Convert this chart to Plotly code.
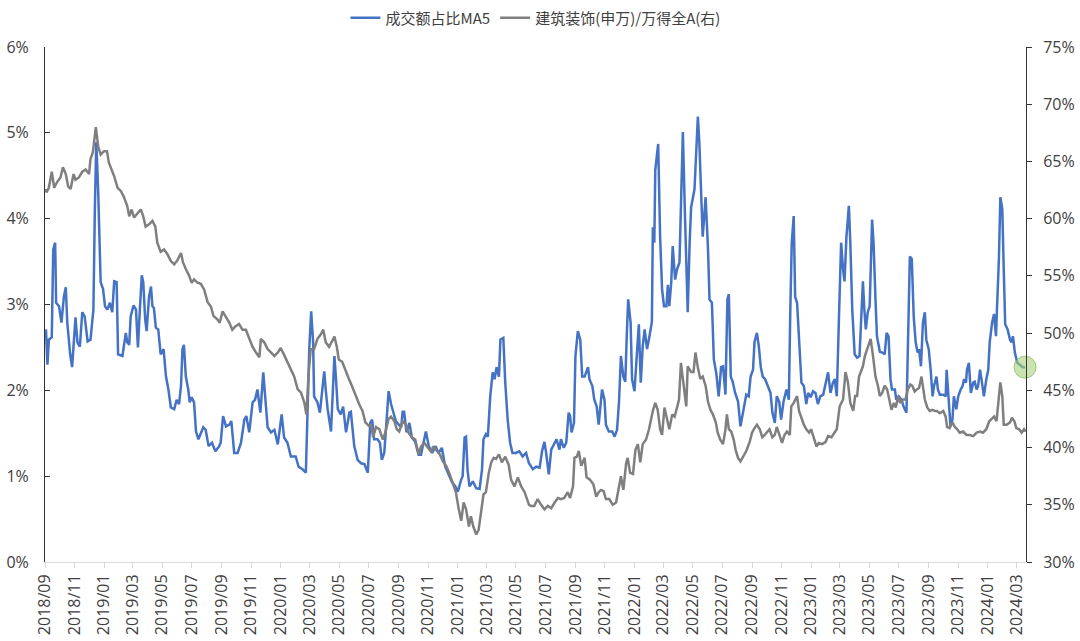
import plotly.graph_objects as go

# ---------------- data ----------------
blue_dates = [
    "2018-09-03","2018-09-06","2018-09-09","2018-09-15","2018-09-18","2018-09-22","2018-09-24","2018-09-30",
    "2018-10-05","2018-10-10","2018-10-14","2018-10-17","2018-10-23","2018-10-27","2018-11-03","2018-11-07",
    "2018-11-12","2018-11-17","2018-11-22","2018-11-28","2018-12-04","2018-12-10","2018-12-13","2018-12-16",
    "2018-12-20","2018-12-25","2018-12-30","2019-01-03","2019-01-08","2019-01-13","2019-01-18","2019-01-22",
    "2019-01-27","2019-01-30","2019-02-08","2019-02-15","2019-02-18","2019-02-22","2019-02-25","2019-03-03",
    "2019-03-08","2019-03-12","2019-03-16","2019-03-20","2019-03-23","2019-03-27","2019-03-30","2019-04-04",
    "2019-04-08","2019-04-11","2019-04-14","2019-04-18","2019-04-23","2019-04-28","2019-05-04","2019-05-09",
    "2019-05-14","2019-05-19","2019-05-26","2019-05-31","2019-06-05","2019-06-09","2019-06-12","2019-06-15",
    "2019-06-19","2019-06-24","2019-06-27","2019-07-01","2019-07-06","2019-07-10","2019-07-15","2019-07-20",
    "2019-07-25","2019-07-30","2019-08-05",
    "2019-08-12","2019-08-19","2019-08-27","2019-08-30","2019-09-04","2019-09-10","2019-09-17","2019-09-21",
    "2019-09-27","2019-10-04","2019-10-11","2019-10-18","2019-10-22","2019-10-28","2019-11-04","2019-11-09",
    "2019-11-14","2019-11-20","2019-11-26","2019-11-30","2019-12-05","2019-12-12","2019-12-19","2019-12-26",
    "2020-01-03","2020-01-08","2020-01-15","2020-01-22","2020-02-01","2020-02-07","2020-02-15","2020-02-22",
    "2020-02-26","2020-02-29","2020-03-04","2020-03-08","2020-03-10","2020-03-17","2020-03-22","2020-03-26",
    "2020-03-31","2020-04-03","2020-04-07","2020-04-14","2020-04-17","2020-04-21","2020-04-24","2020-04-28",
    "2020-05-04","2020-05-09","2020-05-15","2020-05-22","2020-05-25","2020-06-01","2020-06-08","2020-06-15",
    "2020-06-22","2020-06-29",
    "2020-07-04","2020-07-08","2020-07-12","2020-07-19","2020-07-24","2020-07-28","2020-08-02","2020-08-07",
    "2020-08-11","2020-08-16","2020-08-21","2020-08-26","2020-09-01","2020-09-06","2020-09-09","2020-09-12",
    "2020-09-17","2020-09-23","2020-09-28","2020-10-05","2020-10-12","2020-10-17","2020-10-22","2020-10-27",
    "2020-11-02","2020-11-09","2020-11-16","2020-11-22","2020-11-29","2020-12-06","2020-12-13","2020-12-20",
    "2020-12-27","2021-01-01","2021-01-08","2021-01-11","2021-01-15","2021-01-18","2021-01-21","2021-01-25",
    "2021-02-01","2021-02-08","2021-02-15","2021-02-20","2021-02-23","2021-02-28","2021-03-04","2021-03-09",
    "2021-03-14","2021-03-18","2021-03-22","2021-03-27","2021-03-30","2021-04-05","2021-04-09","2021-04-14",
    "2021-04-19","2021-04-24","2021-05-01","2021-05-08","2021-05-15","2021-05-22","2021-05-28",
    "2021-06-05","2021-06-12","2021-06-19","2021-06-24","2021-06-29","2021-07-02","2021-07-08","2021-07-13",
    "2021-07-20","2021-07-24","2021-07-30","2021-08-02","2021-08-08","2021-08-13","2021-08-18","2021-08-21",
    "2021-08-24","2021-08-29","2021-09-01","2021-09-06","2021-09-11","2021-09-15","2021-09-20","2021-09-27",
    "2021-09-30","2021-10-06","2021-10-10","2021-10-15","2021-10-19","2021-10-26","2021-10-31","2021-11-03",
    "2021-11-09","2021-11-16","2021-11-21","2021-11-26","2021-11-30","2021-12-04","2021-12-09","2021-12-13",
    "2021-12-16","2021-12-19","2021-12-24","2021-12-27","2022-01-01","2022-01-06","2022-01-10","2022-01-14",
    "2022-01-18","2022-01-22","2022-01-27","2022-02-01","2022-02-06","2022-02-08","2022-02-11","2022-02-13",
    "2022-02-19","2022-02-23","2022-02-27","2022-03-03","2022-03-08","2022-03-11","2022-03-14","2022-03-18",
    "2022-03-21","2022-03-26","2022-03-30","2022-04-04","2022-04-07","2022-04-11","2022-04-15","2022-04-19",
    "2022-04-21",
    "2022-04-25","2022-04-28","2022-05-05","2022-05-09","2022-05-12","2022-05-15","2022-05-19","2022-05-22",
    "2022-05-28","2022-06-02","2022-06-05","2022-06-10","2022-06-14","2022-06-19","2022-06-24","2022-06-29",
    "2022-07-03","2022-07-08","2022-07-12","2022-07-15","2022-07-19","2022-07-23","2022-07-28","2022-08-03",
    "2022-08-08","2022-08-12","2022-08-17","2022-08-20","2022-08-25","2022-08-29","2022-09-03","2022-09-06",
    "2022-09-11","2022-09-15","2022-09-19","2022-09-23","2022-09-28","2022-10-04","2022-10-09","2022-10-13",
    "2022-10-18","2022-10-22","2022-10-27","2022-10-31","2022-11-05","2022-11-11","2022-11-16","2022-11-19",
    "2022-11-22","2022-11-26","2022-11-29","2022-12-03","2022-12-07","2022-12-12","2022-12-17","2022-12-22",
    "2022-12-26","2022-12-31","2023-01-05","2023-01-10","2023-01-15","2023-01-20","2023-01-26","2023-01-30",
    "2023-02-05","2023-02-10","2023-02-15","2023-02-19","2023-02-23","2023-02-28","2023-03-04","2023-03-08",
    "2023-03-11","2023-03-15","2023-03-20",
    "2023-03-23","2023-03-27","2023-04-01","2023-04-06","2023-04-11","2023-04-14","2023-04-18","2023-04-21",
    "2023-04-24","2023-04-28","2023-05-02","2023-05-07","2023-05-10","2023-05-14","2023-05-17","2023-05-23",
    "2023-05-28","2023-06-02","2023-06-06","2023-06-10","2023-06-14","2023-06-17","2023-06-23","2023-06-26",
    "2023-07-01","2023-07-07","2023-07-11","2023-07-17","2023-07-20","2023-07-24","2023-07-28","2023-08-01",
    "2023-08-05","2023-08-09","2023-08-12","2023-08-16","2023-08-20","2023-08-24","2023-08-27","2023-09-01",
    "2023-09-05","2023-09-09","2023-09-12","2023-09-17","2023-09-20","2023-09-24","2023-10-01","2023-10-06",
    "2023-10-08","2023-10-12","2023-10-16","2023-10-20","2023-10-23","2023-10-28","2023-11-01","2023-11-06",
    "2023-11-10","2023-11-13","2023-11-17","2023-11-19","2023-11-23","2023-11-27","2023-12-02","2023-12-05",
    "2023-12-09","2023-12-12","2023-12-16","2023-12-19","2023-12-24","2023-12-29","2024-01-02","2024-01-05",
    "2024-01-10","2024-01-14","2024-01-18","2024-01-20","2024-01-24","2024-01-27","2024-01-31","2024-02-03",
    "2024-02-06","2024-02-11","2024-02-16","2024-02-19","2024-02-22","2024-02-26","2024-03-02","2024-03-07",
    "2024-03-13","2024-03-18",
]
blue_vals = [
    2.71,2.30,2.59,2.62,3.64,3.72,3.02,2.98,
    2.79,3.09,3.20,2.79,2.42,2.27,2.85,2.56,
    2.51,2.91,2.86,2.57,2.59,2.94,4.11,4.89,
    4.30,3.26,3.18,2.98,2.94,3.02,2.91,3.27,
    3.26,2.42,2.40,2.67,2.56,2.53,2.86,2.99,
    2.94,2.50,2.94,3.34,3.26,2.83,2.69,3.09,
    3.21,2.98,2.96,2.73,2.71,2.42,2.48,2.16,
    2.01,1.80,1.78,1.89,1.84,2.05,2.48,2.53,
    2.16,2.01,1.86,1.92,1.86,1.52,1.43,1.49,
    1.57,1.54,1.35,
    1.39,1.29,1.35,1.39,1.70,1.58,1.60,1.64,
    1.27,1.27,1.39,1.66,1.70,1.51,1.86,1.89,
    2.01,1.74,2.21,1.89,1.57,1.51,1.54,1.37,
    1.72,1.45,1.39,1.23,1.23,1.11,1.08,1.04,
    1.78,2.48,2.92,2.56,1.93,1.86,1.74,1.93,
    2.22,2.01,1.78,1.52,1.93,2.40,2.16,1.78,
    1.72,1.81,1.51,1.74,1.75,1.35,1.19,1.15,
    1.14,1.04,
    1.62,1.66,1.43,1.43,1.39,1.19,1.27,1.62,
    1.99,1.84,1.75,1.64,1.60,1.57,1.75,1.75,
    1.51,1.62,1.45,1.40,1.25,1.25,1.39,1.52,
    1.35,1.27,1.35,1.27,1.33,1.11,1.02,0.93,
    0.88,0.82,0.96,1.00,1.45,1.46,1.08,0.88,
    0.94,0.86,0.85,1.08,1.43,1.49,1.46,1.93,
    2.21,2.13,2.27,2.16,2.59,2.61,2.09,1.66,
    1.39,1.27,1.27,1.29,1.23,1.27,1.15,
    1.08,1.11,1.10,1.29,1.40,1.29,1.02,1.31,
    1.39,1.43,1.31,1.43,1.33,1.39,1.74,1.70,
    1.51,1.62,2.40,2.69,2.59,2.16,2.16,2.27,
    2.13,2.05,1.89,1.81,1.60,2.01,1.89,1.60,
    1.52,1.52,1.46,1.54,1.86,2.40,2.16,2.10,
    2.63,3.06,2.79,2.13,1.99,2.48,2.77,2.09,
    2.51,2.71,2.48,2.63,2.80,3.90,3.72,4.57,
    4.87,3.79,3.18,2.98,2.98,3.23,2.98,3.26,
    3.68,3.29,3.41,3.49,4.11,5.01,4.11,3.09,
    2.91,
    3.72,4.13,4.34,4.89,5.19,4.89,4.15,3.79,
    4.25,3.64,3.06,3.02,2.36,2.20,1.93,2.27,
    2.28,1.95,3.06,3.12,2.16,2.10,1.97,1.87,
    1.58,1.70,1.89,1.95,1.93,2.16,2.24,2.56,
    2.67,2.51,2.27,2.16,2.13,2.05,1.97,1.74,
    1.62,1.93,1.87,1.66,1.87,2.01,1.89,2.94,
    3.72,4.03,3.09,3.02,2.56,2.09,2.05,1.84,
    1.97,1.92,1.99,1.97,1.84,1.93,1.95,2.07,
    2.21,1.97,2.09,2.13,1.93,2.94,3.72,3.41,
    3.27,3.79,4.15,
    3.72,2.94,2.42,2.38,2.40,2.79,3.27,2.94,
    2.71,2.91,2.98,3.99,3.72,3.06,2.63,2.45,
    2.44,2.42,2.67,2.63,2.13,2.01,2.01,1.89,
    1.93,1.89,1.81,1.74,2.56,3.56,3.53,2.86,
    2.56,2.44,2.48,2.28,2.79,2.91,2.59,2.48,
    2.24,1.93,2.05,2.16,2.01,1.95,1.95,1.93,
    2.24,1.89,1.58,1.66,1.93,1.78,1.93,2.01,
    2.05,2.13,2.09,2.24,2.32,1.97,2.09,2.10,
    2.01,2.05,2.24,2.13,1.93,2.13,2.24,2.56,
    2.79,2.89,2.63,2.94,3.53,4.25,4.11,3.41,
    2.77,2.71,2.59,2.56,2.63,2.44,2.32,2.30,
    2.27,2.27,
]

gray_dates = [
    "2018-09-03","2018-09-04","2018-09-09","2018-09-15","2018-09-20","2018-09-26","2018-10-03","2018-10-08",
    "2018-10-14","2018-10-19","2018-10-24","2018-10-30","2018-11-03","2018-11-10","2018-11-17","2018-11-24",
    "2018-12-01","2018-12-04","2018-12-09","2018-12-15","2018-12-20","2018-12-25","2019-01-01","2019-01-07",
    "2019-01-11","2019-01-17","2019-01-22","2019-01-29","2019-02-05","2019-02-11","2019-02-18","2019-02-22",
    "2019-02-27","2019-03-04","2019-03-11","2019-03-18","2019-03-23","2019-03-28","2019-04-04","2019-04-11",
    "2019-04-17","2019-04-21","2019-04-28","2019-05-05","2019-05-12","2019-05-19","2019-05-26","2019-06-02",
    "2019-06-09","2019-06-13","2019-06-19","2019-06-26","2019-07-01","2019-07-06","2019-07-13","2019-07-20",
    "2019-07-27","2019-08-03",
    "2019-08-10","2019-08-15","2019-08-23","2019-08-28","2019-09-03","2019-09-10","2019-09-17","2019-09-23",
    "2019-09-30","2019-10-07","2019-10-14","2019-10-21","2019-10-28","2019-11-04","2019-11-11","2019-11-18",
    "2019-11-21","2019-11-28","2019-12-05","2019-12-12","2019-12-19","2019-12-26","2020-01-01","2020-01-08",
    "2020-01-15","2020-01-22","2020-01-29","2020-02-05","2020-02-12","2020-02-19","2020-02-23","2020-02-28",
    "2020-03-03","2020-03-10","2020-03-17","2020-03-24","2020-03-29","2020-04-03","2020-04-10","2020-04-15",
    "2020-04-21","2020-04-26","2020-04-30","2020-05-07","2020-05-13","2020-05-20","2020-05-27","2020-06-05",
    "2020-06-11","2020-06-18","2020-06-24","2020-07-01",
    "2020-07-06","2020-07-10","2020-07-16","2020-07-23","2020-07-30","2020-08-04","2020-08-11","2020-08-16",
    "2020-08-23","2020-08-28","2020-09-02","2020-09-09","2020-09-16","2020-09-21","2020-09-28","2020-10-05",
    "2020-10-12","2020-10-17","2020-10-24","2020-10-31","2020-11-07","2020-11-11","2020-11-18","2020-11-25",
    "2020-12-01","2020-12-08","2020-12-15","2020-12-21","2020-12-28","2021-01-03","2021-01-08","2021-01-13",
    "2021-01-18","2021-01-24","2021-01-28","2021-02-02","2021-02-08","2021-02-13","2021-02-18","2021-02-23",
    "2021-02-28","2021-03-06","2021-03-11","2021-03-16","2021-03-21","2021-03-27","2021-04-02","2021-04-09",
    "2021-04-16","2021-04-21","2021-04-28","2021-05-05","2021-05-12","2021-05-19","2021-05-28",
    "2021-06-01","2021-06-08","2021-06-15","2021-06-22","2021-06-29","2021-07-06","2021-07-13","2021-07-20",
    "2021-07-27","2021-08-02","2021-08-09","2021-08-16","2021-08-21","2021-08-27","2021-08-30","2021-09-04",
    "2021-09-08","2021-09-13","2021-09-20","2021-09-24","2021-10-01","2021-10-08","2021-10-14","2021-10-19",
    "2021-10-24","2021-10-29","2021-11-03","2021-11-10","2021-11-17","2021-11-24","2021-11-30","2021-12-04",
    "2021-12-09","2021-12-15","2021-12-18","2021-12-23","2021-12-29","2022-01-03","2022-01-08","2022-01-13",
    "2022-01-18","2022-01-25","2022-01-31","2022-02-04","2022-02-08","2022-02-13","2022-02-18","2022-02-23",
    "2022-02-27","2022-03-04","2022-03-09","2022-03-14","2022-03-20","2022-03-25","2022-03-30","2022-04-03",
    "2022-04-07","2022-04-12","2022-04-18","2022-04-21",
    "2022-04-28","2022-05-03","2022-05-07","2022-05-12","2022-05-17","2022-05-22","2022-05-28","2022-06-02",
    "2022-06-07","2022-06-12","2022-06-18","2022-06-22","2022-06-27","2022-07-03","2022-07-08","2022-07-11",
    "2022-07-15","2022-07-20","2022-07-25","2022-07-29","2022-08-03","2022-08-08","2022-08-13","2022-08-20",
    "2022-08-27","2022-09-01","2022-09-06","2022-09-11","2022-09-17","2022-09-22","2022-09-27","2022-10-02",
    "2022-10-07","2022-10-13","2022-10-18","2022-10-22","2022-10-28","2022-11-02","2022-11-07","2022-11-12",
    "2022-11-18","2022-11-21","2022-11-26","2022-11-30","2022-12-03","2022-12-07","2022-12-12","2022-12-17",
    "2022-12-22","2022-12-28","2023-01-01","2023-01-06","2023-01-12","2023-01-17","2023-01-24","2023-01-31",
    "2023-02-05","2023-02-12","2023-02-19","2023-02-23",
    "2023-03-01","2023-03-08","2023-03-13","2023-03-18","2023-03-23","2023-03-29","2023-04-02","2023-04-06",
    "2023-04-10","2023-04-14","2023-04-18","2023-04-22","2023-04-27","2023-05-01","2023-05-04","2023-05-08",
    "2023-05-11","2023-05-14","2023-05-19","2023-05-23","2023-05-28","2023-06-02","2023-06-07","2023-06-11",
    "2023-06-16","2023-06-21","2023-06-25","2023-06-30","2023-07-04","2023-07-10","2023-07-15","2023-07-20",
    "2023-07-25","2023-07-29","2023-08-03","2023-08-08","2023-08-12","2023-08-17","2023-08-20","2023-08-24",
    "2023-08-29","2023-09-03","2023-09-09","2023-09-13","2023-09-18","2023-09-24","2023-10-01","2023-10-06",
    "2023-10-09","2023-10-14","2023-10-20","2023-10-25","2023-10-30","2023-11-04","2023-11-11","2023-11-18",
    "2023-11-25","2023-12-02","2023-12-09","2023-12-16","2023-12-22","2023-12-29","2024-01-04","2024-01-09",
    "2024-01-14","2024-01-19","2024-01-24","2024-01-27","2024-01-31","2024-02-03","2024-02-09","2024-02-16",
    "2024-02-20","2024-02-25","2024-02-29","2024-03-06","2024-03-11","2024-03-16","2024-03-19",
]
gray_vals = [
    62.6,62.3,62.7,64.1,62.7,63.2,63.6,64.5,
    63.9,62.8,62.6,63.9,63.4,63.6,64.1,64.3,
    63.9,65.2,65.8,68.0,66.3,65.6,65.9,65.9,
    64.9,64.3,63.7,62.7,62.4,61.9,61.1,60.2,
    60.8,60.1,60.5,60.8,60.2,59.3,59.5,59.8,
    59.3,57.9,57.1,57.3,56.9,56.3,56.0,56.4,
    57.0,56.2,55.6,55.0,54.4,54.7,54.4,54.3,
    53.8,52.7,
    52.3,51.5,51.2,50.9,51.9,51.4,50.9,50.3,
    50.6,50.8,50.3,50.3,49.6,48.8,48.3,47.9,
    49.5,49.2,48.6,48.3,48.0,48.3,48.7,48.1,
    47.5,46.8,46.2,45.1,44.8,43.9,42.9,46.6,
    48.6,48.6,49.5,49.9,50.3,49.2,48.8,49.2,
    49.7,48.8,47.7,47.5,46.8,46.1,45.4,44.4,
    43.8,43.2,42.2,41.9,
    42.0,40.9,41.8,41.6,40.7,41.3,42.5,42.7,
    42.3,41.6,41.4,42.3,42.0,41.3,40.9,40.7,
    39.4,40.1,40.4,40.0,39.6,40.1,39.7,39.4,
    38.8,38.4,37.7,36.9,36.1,34.6,33.6,35.2,
    34.6,33.1,34.0,33.1,32.4,32.8,34.6,35.9,
    36.1,37.8,38.7,39.1,39.0,39.4,38.7,39.2,
    38.5,37.2,36.6,37.4,36.6,36.1,35.0,
    34.9,34.9,35.5,35.0,34.6,34.9,34.7,35.2,
    35.6,35.5,35.6,36.1,35.6,36.6,39.1,39.2,
    39.7,38.4,39.1,37.4,37.2,36.8,35.7,36.1,
    36.3,36.2,35.5,35.5,35.0,35.2,36.6,37.5,
    36.3,38.7,39.1,37.8,37.7,39.8,40.3,38.7,
    40.3,40.7,41.6,42.5,43.2,43.9,43.3,41.6,
    41.1,43.5,42.6,41.6,42.9,42.7,43.5,44.2,
    47.4,45.4,43.6,47.1,
    46.6,46.6,48.3,47.0,46.0,46.2,45.4,44.0,
    43.3,42.9,42.2,41.3,40.7,40.3,41.6,42.9,
    41.6,41.4,40.7,39.8,39.1,38.8,39.2,39.7,
    40.5,41.3,41.7,42.0,41.6,40.9,41.1,41.4,
    41.6,40.9,41.1,41.8,41.1,40.4,41.1,41.4,
    41.1,43.6,43.9,44.2,44.5,43.2,42.5,42.0,
    41.6,41.3,41.6,40.9,40.1,40.4,40.3,40.5,
    41.0,40.9,41.4,41.6,
    43.6,44.2,46.6,45.7,43.9,43.2,44.5,44.5,
    46.2,46.6,47.1,48.0,48.6,49.2,49.5,48.3,
    47.4,46.2,45.4,44.5,44.8,45.4,45.1,44.2,
    43.3,43.9,43.5,44.5,43.9,44.2,44.2,45.1,
    45.5,45.4,44.9,45.1,45.2,46.2,45.2,44.2,
    43.5,43.2,43.3,43.2,43.2,43.0,43.2,42.7,
    41.8,41.7,42.2,41.8,41.6,41.3,41.4,41.1,
    41.1,41.0,41.3,41.4,41.3,41.6,42.3,42.5,
    42.7,42.3,44.8,45.7,44.5,42.0,42.0,42.2,
    42.6,42.3,41.7,41.6,41.3,41.6,41.4,
]

blue_name = "成交额占比MA5"
gray_name = "建筑装饰(申万)/万得全A(右)"

x_range = ["2018-09-01", "2024-03-20"]
left_range = [0, 6]
right_range = [30, 75]

# ---------------- figure ----------------
TICK_FONT = dict(family="Open Sans, Noto Sans, sans-serif", size=16, color="#404040")

fig = go.Figure()
fig.add_trace(go.Scatter(
    x=blue_dates, y=blue_vals, name=blue_name, mode="lines",
    line=dict(color="#4472C4", width=2.5), yaxis="y", hoverinfo="skip",
))
fig.add_trace(go.Scatter(
    x=gray_dates, y=gray_vals, name=gray_name, mode="lines",
    line=dict(color="#7F7F7F", width=2.5), yaxis="y2", hoverinfo="skip",
))
fig.add_trace(go.Scatter(
    x=[blue_dates[-1]], y=[blue_vals[-1]], mode="markers", showlegend=False,
    marker=dict(size=22, color="rgba(169,209,120,0.6)",
                line=dict(color="rgba(112,173,71,0.6)", width=1)),
    yaxis="y", cliponaxis=False, hoverinfo="skip",
))

fig.update_layout(
    width=1080, height=641,
    margin=dict(l=45, r=54, t=47, b=79, autoexpand=False),
    paper_bgcolor="white", plot_bgcolor="white",
    showlegend=True,
    legend=dict(
        orientation="h", x=0.5, xanchor="center",
        yref="container", y=1 - 18 / 641, yanchor="middle",
        font=dict(family="Noto Sans CJK SC, sans-serif", size=15, color="#404040"),
        bgcolor="rgba(0,0,0,0)", itemwidth=30, tracegroupgap=0,
    ),
    xaxis=dict(
        type="date", range=x_range, tickformat="%Y/%m", dtick="M2", tick0="2018-09-01",
        tickangle=-90, tickfont=TICK_FONT, showgrid=False, zeroline=False,
        showline=True, linecolor="#D9D9D9", linewidth=1,
        ticks="outside", ticklen=5, tickcolor="#D9D9D9",
    ),
    yaxis=dict(
        range=left_range, dtick=1, ticksuffix="%", tickfont=TICK_FONT,
        showgrid=False, zeroline=False, showline=True, linecolor="#333333", linewidth=1,
        ticks="inside", ticklen=5, tickcolor="#333333", ticklabelstandoff=12,
    ),
    yaxis2=dict(
        range=right_range, dtick=5, ticksuffix="%", tickfont=TICK_FONT,
        overlaying="y", side="right", anchor="x",
        showgrid=False, zeroline=False, showline=True, linecolor="#333333", linewidth=1,
        ticks="outside", ticklen=5, tickcolor="#333333", ticklabelstandoff=8,
    ),
)

fig.write_html("out.html")
